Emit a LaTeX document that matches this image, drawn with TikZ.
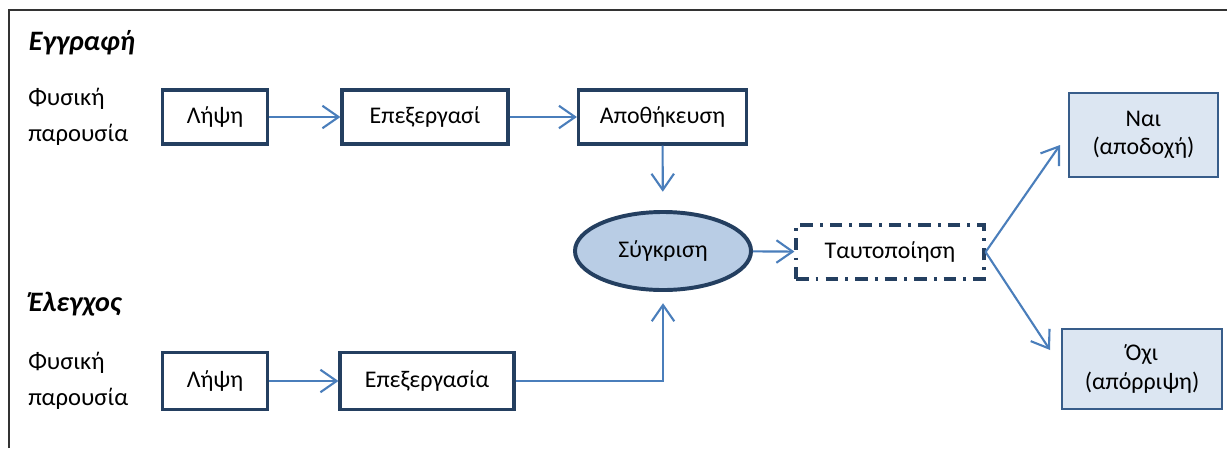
\documentclass[tikz,border=0pt]{standalone}
\usepackage{fontspec}
\setmainfont{Carlito}
\usetikzlibrary{arrows.meta,shapes.geometric}
\definecolor{navy}{HTML}{243F60}
\definecolor{flowblue}{HTML}{4A7EBB}
\definecolor{ovalfill}{HTML}{B9CDE5}
\definecolor{resfill}{HTML}{DCE6F2}
\definecolor{resline}{HTML}{385D8A}
\tikzset{
  stage/.style={draw=navy,line width=2.2pt,minimum height=1.35cm,inner sep=0pt},
  result/.style={draw=resline,fill=resfill,line width=0.9pt,align=center,inner sep=0pt},
  title/.style={anchor=west,font=\fontsize{20}{24}\selectfont\bfseries\itshape},
  presence/.style={anchor=west,align=left,inner sep=0pt,font=\fontsize{17.5}{26}\selectfont},
  flow/.style={draw=flowblue,line width=1.5pt,-{Straight Barb[length=11.5pt,width=16pt,line width=1.5pt]}}
}
\begin{document}
\begin{tikzpicture}[x=0.025cm,y=-0.025cm,font=\fontsize{17}{20}\selectfont]
\useasboundingbox (0,0) rectangle (1227,448);
\draw[line width=1pt,black!80] (9,448)--(9,10)--(1227,10);
% enrolment
\node[title] (enrol) at (24,43) {Εγγραφή};
\node[presence] (presA) at (28,117) {Φυσική\\παρουσία};
\node[stage,minimum width=2.62cm] (captA) at (215,117) {Λήψη};
\node[stage,minimum width=4.15cm] (procA) at (425,117) {Επεξεργασί};
\node[stage,minimum width=4.2cm] (storeA) at (662.5,117) {Αποθήκευση};
% matching
\node[ellipse,draw=navy,fill=ovalfill,line width=2.8pt,minimum width=4.4cm,minimum height=1.95cm] (match) at (663,251) {Σύγκριση};
\node[stage,minimum width=4.7cm,dash pattern=on 9pt off 5pt on 2pt off 5pt] (ident) at (890,252) {Ταυτοποίηση};
\node[result,minimum width=3.72cm,minimum height=2.1cm] (yes) at (1143.5,135) {Ναι\\(αποδοχή)};
\node[result,minimum width=4cm,minimum height=2cm] (no) at (1142,369) {Όχι\\(απόρριψη)};
% verification
\node[title] (verif) at (24,304) {Έλεγχος};
\node[presence] (presB) at (28,381) {Φυσική\\παρουσία};
\node[stage,minimum width=2.62cm,minimum height=1.42cm] (captB) at (215,381) {Λήψη};
\node[stage,minimum width=4.35cm,minimum height=1.42cm] (procB) at (427,381) {Επεξεργασία};
\coordinate (yestip) at (1060,145);
\coordinate (notip) at (1050,350);
\coordinate (bend) at (663,381);
% connectors
\draw[flow] (captA) -- (procA);
\draw[flow] (procA) -- (storeA);
\draw[flow,shorten >=13pt] (storeA) -- (match);
\draw[flow] (match) -- (ident);
\draw[flow] (ident.east) -- (yestip);
\draw[flow] (ident.east) -- (notip);
\draw[flow] (captB) -- (procB);
\draw[flow,shorten >=8pt] (procB) -- (bend) -- (match);
\end{tikzpicture}
\end{document}
